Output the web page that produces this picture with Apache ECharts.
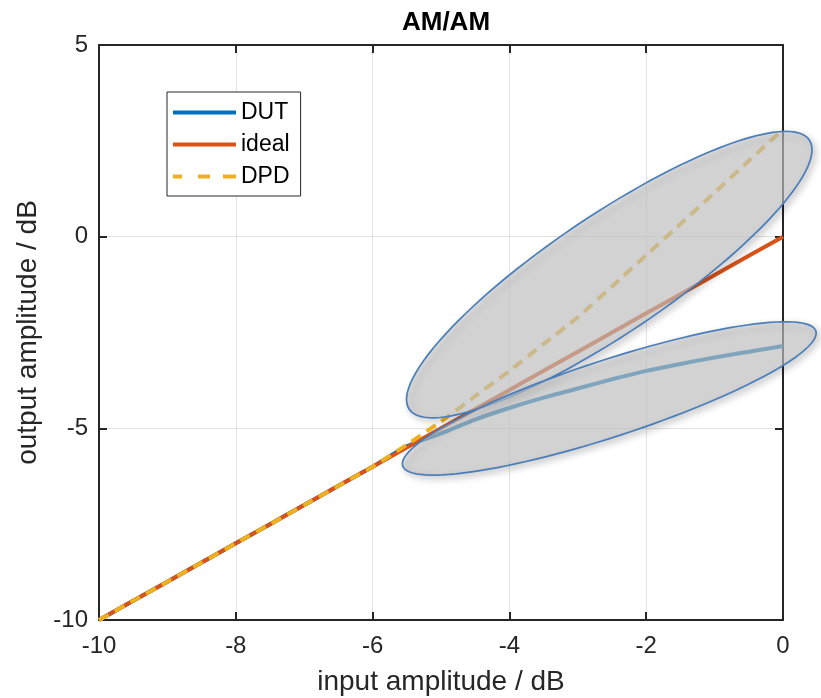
<!DOCTYPE html>
<html>
<head>
<meta charset="utf-8">
<script src="https://cdn.jsdelivr.net/npm/echarts@6/dist/echarts.min.js"></script>
<style>
  html, body { margin: 0; padding: 0; background: #fff; }
  #root { width: 821px; height: 698px; }
</style>
</head>
<body>
<div id="root"></div>
<script>
// input amplitude grid (dB)
var inputDb = [-10, -9.5, -9, -8.5, -8, -7.5, -7, -6.5, -6, -5.5, -5, -4.5, -4, -3.5, -3, -2.5, -2, -1.5, -1, -0.5, 0]
var idealDb = [-10, -9.5, -9, -8.5, -8, -7.5, -7, -6.5, -6, -5.5, -5, -4.5, -4, -3.5, -3, -2.5, -2, -1.5, -1, -0.5, 0]
var dutDb = [-10, -9.5, -9, -8.5, -8, -7.5, -7, -6.5, -6, -5.47, -5.13, -4.77, -4.47, -4.2, -3.96, -3.72, -3.5, -3.32, -3.15, -3.0, -2.85]
var dpdDb = [-10, -9.5, -9, -8.5, -8, -7.5, -7, -6.5, -6, -5.43, -4.82, -4.16, -3.5, -2.8, -2.1, -1.3, -0.48, 0.33, 1.15, 1.98, 2.8]

var xTicks = [-10, -8, -6, -4, -2, 0]
var yTicks = [-10, -5, 0, 5]

// annotation ellipses: centre, half major axis, half minor axis (data units)
var ellipseCenter = [[-2.54, -0.99], [-2.54, -4.22]]
var ellipseMajor = [[2.925, 3.51], [3.02, 1.76]]
var ellipseMinor = [[0.48, -1.28], [0.173, -0.95]]

function pairs(xs, ys) {
    return xs.map(function (x, i) { return [x, ys[i]] })
}

var font = 'Liberation Sans, Arial, Helvetica, sans-serif'
var ink = '#262626'

// legend glyphs: solid bar, and three dashes for the dashed line
var solidIcon = 'path://M0,0H63V4H0Z'
var dashIcon = 'path://M0,0H9V4H0Z M25,0H37V4H25Z M50,0H63V4H50Z'

var ellipseData = ellipseCenter.map(function (c, i) {
    return [c[0], c[1], ellipseMajor[i][0], ellipseMajor[i][1], ellipseMinor[i][0], ellipseMinor[i][1]]
})

function renderEllipse(params, api) {
    var cx = api.value(0), cy = api.value(1)
    var ux = api.value(2), uy = api.value(3)
    var vx = api.value(4), vy = api.value(5)
    var pts = []
    for (var i = 0; i < 120; i++) {
        var t = Math.PI * 2 * i / 120
        pts.push(api.coord([cx + ux * Math.cos(t) + vx * Math.sin(t), cy + uy * Math.cos(t) + vy * Math.sin(t)]))
    }
    return {
        type: 'polygon',
        shape: { points: pts },
        style: {
            fill: 'rgba(206,206,206,0.62)',
            stroke: '#4a7ebb',
            lineWidth: 1.7,
            shadowBlur: 7,
            shadowColor: 'rgba(0,0,0,0.25)',
            shadowOffsetX: 3,
            shadowOffsetY: 3
        }
    }
}

var axisCommon = {
    type: 'value',
    axisLine: { show: true, onZero: false, lineStyle: { color: ink, width: 2 } },
    axisTick: { show: true, inside: true, length: 8, lineStyle: { color: ink, width: 2 } }
}

var chart = echarts.init(document.getElementById('root'))

var option = {
    backgroundColor: '#fff',
    animation: false,
    title: {
        text: 'AM/AM',
        left: 441,
        textAlign: 'center',
        top: 5,
        textStyle: { fontFamily: font, fontSize: 26, fontWeight: 'bold', color: '#000' }
    },
    legend: {
        data: [
            { name: 'DUT', icon: solidIcon },
            { name: 'ideal', icon: solidIcon },
            { name: 'DPD', icon: dashIcon }
        ],
        orient: 'vertical',
        left: 167,
        top: 92,
        itemWidth: 63,
        itemHeight: 4,
        itemGap: 9,
        padding: [9, 11, 8, 6],
        backgroundColor: '#fff',
        borderColor: ink,
        borderWidth: 1,
        borderRadius: 0,
        textStyle: { fontFamily: font, fontSize: 23, color: '#000' }
    },
    grid: { left: 99, right: 38, top: 45, bottom: 78, outerBoundsMode: 'none', containLabel: false },
    xAxis: [
        Object.assign({}, axisCommon, {
            position: 'bottom',
            min: xTicks[0], max: xTicks[xTicks.length - 1], interval: 2,
            axisLabel: { fontFamily: font, fontSize: 24, color: ink, margin: 14 },
            splitLine: { show: true, lineStyle: { color: '#e3e3e3', width: 1 } },
            name: 'input amplitude / dB',
            nameLocation: 'middle',
            nameGap: 48,
            nameTextStyle: { fontFamily: font, fontSize: 28, color: ink }
        }),
        Object.assign({}, axisCommon, {
            position: 'top',
            min: xTicks[0], max: xTicks[xTicks.length - 1], interval: 2,
            axisLabel: { show: false },
            splitLine: { show: false }
        })
    ],
    yAxis: [
        Object.assign({}, axisCommon, {
            position: 'left',
            min: yTicks[0], max: yTicks[yTicks.length - 1], interval: 5,
            axisLabel: { fontFamily: font, fontSize: 24, color: ink, margin: 11 },
            splitLine: { show: true, lineStyle: { color: '#e3e3e3', width: 1 } },
            name: 'output amplitude / dB',
            nameLocation: 'middle',
            nameGap: 50,
            nameTextStyle: { fontFamily: font, fontSize: 28, color: ink }
        }),
        Object.assign({}, axisCommon, {
            position: 'right',
            min: yTicks[0], max: yTicks[yTicks.length - 1], interval: 5,
            axisLabel: { show: false },
            splitLine: { show: false }
        })
    ],
    series: [
        {
            name: 'DUT', type: 'line', data: pairs(inputDb, dutDb),
            symbol: 'none', smooth: 0.2, z: 2,
            color: '#0072BD',
            lineStyle: { color: '#0072BD', width: 4 }
        },
        {
            name: 'ideal', type: 'line', data: pairs(inputDb, idealDb),
            symbol: 'none', z: 3,
            color: '#D95319',
            lineStyle: { color: '#D95319', width: 4 }
        },
        {
            name: 'DPD', type: 'line', data: pairs(inputDb, dpdDb),
            symbol: 'none', smooth: 0.2, z: 4,
            color: '#EDB120',
            lineStyle: { color: '#EDB120', width: 4, type: [11, 7] }
        },
        {
            name: 'marks', type: 'custom', coordinateSystem: 'cartesian2d',
            data: ellipseData, renderItem: renderEllipse,
            encode: { x: 0, y: 1 },
            silent: true, z: 10
        }
    ]
}

chart.setOption(option)
</script>
</body>
</html>
